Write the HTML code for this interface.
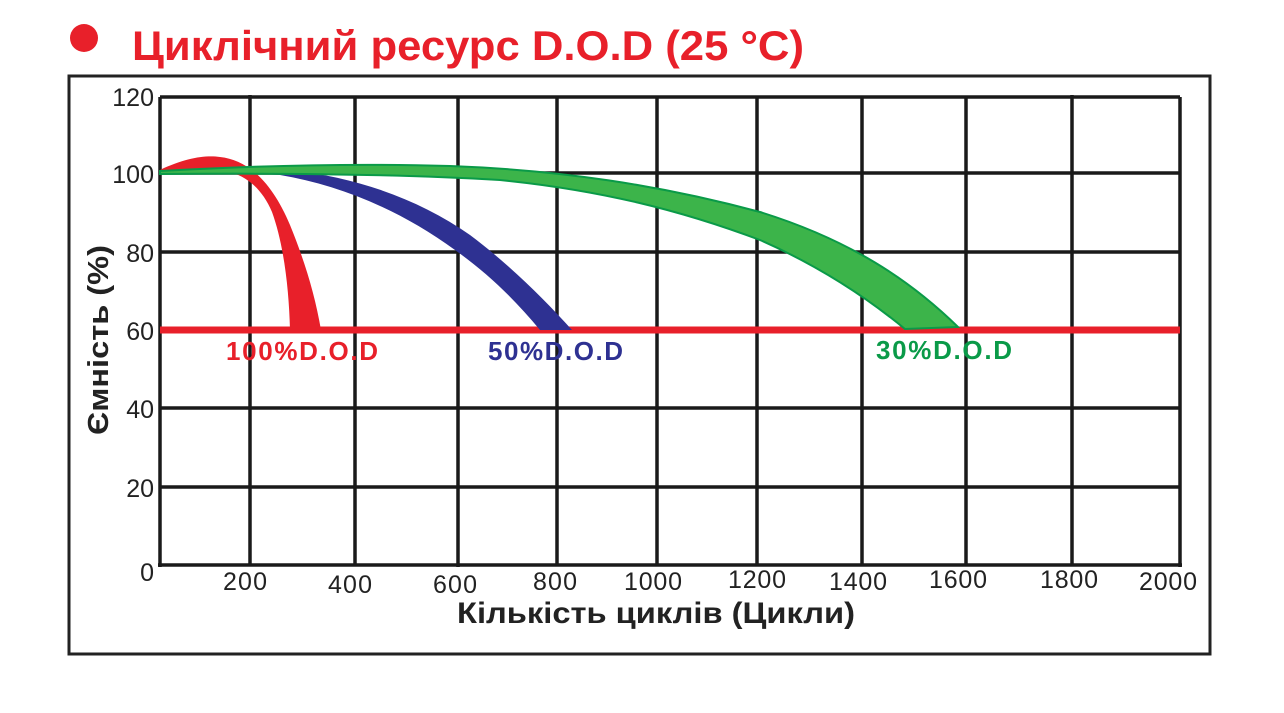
<!DOCTYPE html>
<html><head><meta charset="utf-8"><style>
body{margin:0;background:#fff;width:1284px;height:708px;overflow:hidden}
</style></head><body>
<svg width="1284" height="708" xmlns="http://www.w3.org/2000/svg" font-family="Liberation Sans, sans-serif">
<circle cx="84" cy="38" r="14" fill="#e8202a"/>
<text x="132" y="60" font-size="42" font-weight="bold" fill="#e8202a" textLength="672" lengthAdjust="spacingAndGlyphs">Циклічний ресурс D.O.D (25 °C)</text>
<rect x="69" y="76" width="1141" height="578" fill="none" stroke="#222" stroke-width="3"/>
<g stroke="#1a1a1a" stroke-width="3.5">
<line x1="160" y1="97" x2="1180" y2="97"/>
<line x1="160" y1="173" x2="1180" y2="173"/>
<line x1="160" y1="252" x2="1180" y2="252"/>
<line x1="160" y1="408" x2="1180" y2="408"/>
<line x1="160" y1="487" x2="1180" y2="487"/>
<line x1="158" y1="565" x2="1182" y2="565"/>
<line x1="160" y1="97" x2="160" y2="567"/>
<line x1="250" y1="95" x2="250" y2="565"/>
<line x1="355" y1="97" x2="355" y2="565"/>
<line x1="458" y1="97" x2="458" y2="567"/>
<line x1="557" y1="97" x2="557" y2="565"/>
<line x1="657" y1="97" x2="657" y2="565"/>
<line x1="757" y1="97" x2="757" y2="565"/>
<line x1="862" y1="97" x2="862" y2="565"/>
<line x1="966" y1="97" x2="966" y2="565"/>
<line x1="1072" y1="95" x2="1072" y2="565"/>
<line x1="1180" y1="97" x2="1180" y2="567"/>
</g>
<line x1="160" y1="330" x2="1180" y2="330" stroke="#e8202a" stroke-width="7"/>
<path d="M160,170 C185,158 205,155 220,157 C248,160 272,182 290,225 C305,262 315,295 321,330 L290,330 C289,290 284,245 272,212 C262,188 245,175 228,172 L160,174 Z" fill="#e8202a"/>
<path d="M160,171 C200,168 240,166 290,170 C360,178 420,200 470,235 C510,265 545,300 572,330 L540,330 C515,300 490,275 455,250 C400,210 340,185 280,175 C240,172 200,173 160,174 Z" fill="#2e3192"/>
<path d="M160,171 C250,166 350,163 450,166 C560,170 660,185 760,212 C850,240 910,280 958,327 L905,329 C860,292 810,262 760,240 C680,210 600,190 500,180 C400,174 280,173 160,174 Z" fill="#3cb44a" stroke="#0a9a48" stroke-width="2"/>
<g font-size="26" font-weight="bold" lengthAdjust="spacingAndGlyphs">
<text x="226" y="360" fill="#e8202a" textLength="152">100%D.O.D</text>
<text x="488" y="360" fill="#2e3192" textLength="135">50%D.O.D</text>
<text x="876" y="359" fill="#0a9a48" textLength="136">30%D.O.D</text>
</g>
<g font-size="25" fill="#222" text-anchor="end">
<text x="154" y="106">120</text>
<text x="154" y="183">100</text>
<text x="154" y="262">80</text>
<text x="154" y="340">60</text>
<text x="154" y="418">40</text>
<text x="154" y="497">20</text>
<text x="154" y="581">0</text>
</g>
<g font-size="25" fill="#222" text-anchor="middle" lengthAdjust="spacingAndGlyphs">
<text x="245" y="590" textLength="44">200</text>
<text x="350" y="593" textLength="44">400</text>
<text x="455" y="593" textLength="44">600</text>
<text x="555" y="590" textLength="44">800</text>
<text x="653" y="590" textLength="58">1000</text>
<text x="757" y="588" textLength="58">1200</text>
<text x="858" y="590" textLength="58">1400</text>
<text x="958" y="588" textLength="58">1600</text>
<text x="1069" y="588" textLength="58">1800</text>
<text x="1168" y="590" textLength="58">2000</text>
</g>
<text x="656" y="623" font-size="30" font-weight="bold" fill="#222" text-anchor="middle" textLength="398" lengthAdjust="spacingAndGlyphs">Кількість циклів (Цикли)</text>
<text transform="translate(108,340) rotate(-90)" font-size="29" font-weight="bold" fill="#222" text-anchor="middle" textLength="190" lengthAdjust="spacingAndGlyphs">Ємність (%)</text>
</svg>
</body></html>
